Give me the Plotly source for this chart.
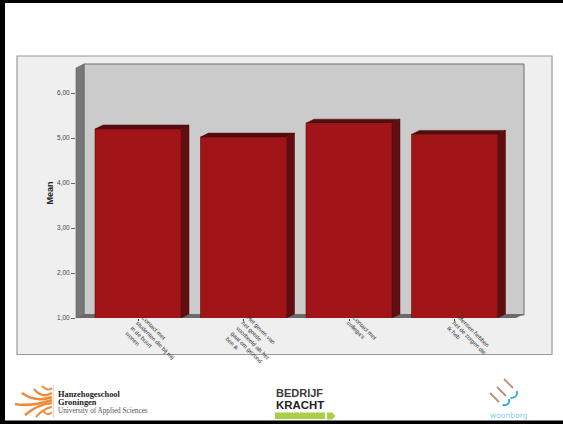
import plotly.graph_objects as go

categories = [
    "Contact met<br>studenten die bij mij<br>in de buurt<br>wonen",
    "Het geven van<br>het goede<br>voorbeeld als het<br>gaat om gezond<br>ben ik",
    "Contact met<br>collega's",
    "Mensen hebben<br>het de zorgen die<br>ik heb",
]
means = [5.20, 5.02, 5.33, 5.08]
y_ticks = [1, 2, 3, 4, 5, 6]
y_labels = ["1,00", "2,00", "3,00", "4,00", "5,00", "6,00"]

W, H = 563, 424
# plot frame in page pixels
L, R, T, B = 76, 516, 68, 318
PXU = 45.0
SPACING = 105.5
Y_TOP = 1 + (B - T) / PXU
X0 = -(138 - L) / SPACING
X1 = 3 + (R - 454.5) / SPACING
BAR_W = 86 / SPACING
DX, DY = 8 / SPACING, 4 / PXU

def px(x):
    return x / W
def py(y):
    return 1 - y / H
def rect(x0, y0, x1, y1, fill, line=None, lw=0):
    return dict(type="rect", xref="paper", yref="paper", x0=px(x0), x1=px(x1), y0=py(y0), y1=py(y1),
                fillcolor=fill, line=dict(color=line or fill, width=lw), layer="below")
def poly(points, fill, line=None, lw=0):
    d = "M " + " L ".join(f"{px(a):.5f} {py(b):.5f}" for a, b in points) + " Z"
    return dict(type="path", xref="paper", yref="paper", path=d, fillcolor=fill,
                line=dict(color=line or fill, width=lw), layer="below")
def curve(d_points, color, lw):
    s = f"M {px(d_points[0][0]):.5f} {py(d_points[0][1]):.5f}"
    for cx, cy, x, y in d_points[1:]:
        s += f" Q {px(cx):.5f} {py(cy):.5f} {px(x):.5f} {py(y):.5f}"
    return dict(type="path", xref="paper", yref="paper", path=s, line=dict(color=color, width=lw), layer="below")

shapes = [
    rect(17, 56, 552, 354.5, "#efefef", "#9a9a9a", 1.2),
    rect(84, 64, 524, 315, "#cbcbcb", "#6e6e6e", 1),
    poly([(76, 68), (84, 64), (84, 315), (76, 318)], "#787878", "#5f5f5f", 0.6),
    poly([(76, 318), (84, 314), (524, 314), (516, 318)], "#6a6a6a"),
]

# depth faces of each bar, derived from its value
for i, v in enumerate(means):
    xr = i + BAR_W / 2
    xl = i - BAR_W / 2
    shapes.append(dict(type="path", xref="x", yref="y", layer="below",
                       path=f"M {xr} 1 L {xr} {v} L {xr + DX} {v + DY} L {xr + DX} {1 + DY} Z",
                       fillcolor="#620d10", line=dict(color="#4a0a0c", width=0.5)))
    shapes.append(dict(type="path", xref="x", yref="y", layer="below",
                       path=f"M {xl} {v} L {xl + DX} {v + DY} L {xr + DX} {v + DY} L {xr} {v} Z",
                       fillcolor="#570b0d", line=dict(color="#4a0a0c", width=0.5)))

# page frame
shapes += [
    rect(0, 0, 563, 3, "#000000"),
    rect(0, 0, 5, 424, "#000000"),
    rect(0, 420.5, 563, 424, "#000000"),
]

# Hanze flame
ORANGE = "#ee8b3a"
for pts, lw in [
    ([(15, 404), (30, 407, 52, 400)], 2.6),
    ([(22, 393), (36, 403, 52, 397)], 2.6),
    ([(25, 415), (38, 404, 52, 403)], 2.6),
    ([(34, 389), (42, 399, 52, 393)], 2.2),
    ([(36, 417), (44, 408, 52, 407)], 2.2),
    ([(42, 386), (48, 392, 52, 388)], 1.8),
    ([(43, 411), (48, 417, 52, 412)], 1.8),
]:
    shapes.append(curve(pts, ORANGE, lw))
shapes.append(rect(53, 385, 53.8, 418, "#f3c9a0"))

# Bedrijfkracht bar
shapes.append(rect(275, 412.5, 325, 419, "#a9cf46"))
shapes.append(poly([(327, 412.5), (332, 412.5), (335.5, 416), (332, 419.5), (327, 419.5)], "#a9cf46"))

# Woonborg mark
BROWN = "#bb9079"
BLUE = "#29a8e6"
for a, b, c, d in [(504, 379, 513, 388), (497, 387, 506, 396), (490, 393, 499, 402)]:
    shapes.append(dict(type="line", xref="paper", yref="paper", x0=px(a), y0=py(b), x1=px(c), y1=py(d),
                       line=dict(color=BROWN, width=1.8), layer="below"))
shapes.append(curve([(510.5, 398), (518, 398, 517, 391)], BLUE, 1.8))
shapes.append(curve([(502.5, 405), (510, 406, 509, 399)], BLUE, 1.8))

def note(x, y, text, size, color, family, bold=False, anchor="left"):
    return dict(xref="paper", yref="paper", x=px(x), y=py(y), text=f"<b>{text}</b>" if bold else text,
                showarrow=False, xanchor=anchor, yanchor="middle", borderpad=0,
                font=dict(size=size, color=color, family=family))

annotations = [
    note(57, 394, "Hanzehogeschool", 8.4, "#222222", "Liberation Serif", True),
    note(57, 402, "Groningen", 8.4, "#222222", "Liberation Serif", True),
    note(57, 411, "University of Applied Sciences", 7.2, "#555555", "Liberation Serif"),
    note(275, 393, "BEDRIJF", 11, "#3c3c3c", "Liberation Sans", True),
    note(275, 405, "KRACHT", 11.4, "#222222", "Liberation Sans", True),
    note(508.5, 415, "woonborg", 7.6, "#7fcdf0", "DejaVu Sans", anchor="center"),
]

fig = go.Figure(go.Bar(
    x=list(range(len(means))), y=means, width=BAR_W,
    marker=dict(color="#a11518", line=dict(color="#5a0d0f", width=0.6)),
    hoverinfo="skip",
))
fig.update_layout(
    width=W, height=H, margin=dict(l=0, r=0, t=0, b=0),
    paper_bgcolor="#ffffff", plot_bgcolor="rgba(0,0,0,0)",
    showlegend=False, shapes=shapes, annotations=annotations,
    font=dict(family="Liberation Sans"),
    xaxis=dict(domain=[px(L), px(R)], range=[X0, X1], tickmode="array",
               tickvals=list(range(len(categories))), ticktext=categories,
               tickangle=45, tickfont=dict(size=5.8, color="#333333"),
               ticks="outside", ticklen=2, tickcolor="#444444", tickwidth=0.7,
               ticklabelstandoff=-9, ticklabelshift=5,
               showgrid=False, zeroline=False, showline=False, automargin=False),
    yaxis=dict(domain=[py(B), py(T)], range=[1, Y_TOP], tickmode="array",
               tickvals=y_ticks, ticktext=y_labels, tickfont=dict(size=6.5, color="#444444"),
               ticks="outside", ticklen=4, tickcolor="#666666", tickwidth=0.8,
               showgrid=False, zeroline=False, showline=False, automargin=False,
               title=dict(text="<b>Mean</b>", font=dict(size=9, color="#222222"), standoff=1)),
)
fig.write_html("out.html", config=dict(displayModeBar=False), post_script="document.body.style.margin='0';")
